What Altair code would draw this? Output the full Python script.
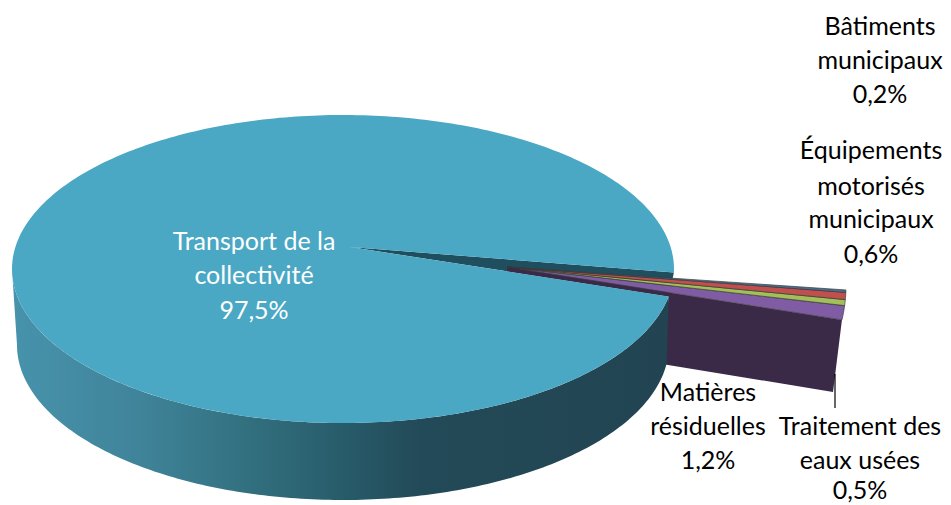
import math
import altair as alt

# ---- data ----
names = ["Transport de la collectivité", "Matières résiduelles", "Traitement des eaux usées",
         "Équipements motorisés municipaux", "Bâtiments municipaux"]
shares = [97.5, 1.2, 0.5, 0.6, 0.2]
slice_colors = ["#4aa8c4", "#7f5ca3", "#a3bf5a", "#c0504d", "#4a6f92"]
label_lines = [
    ["Transport de la", "collectivité", "97,5%"],
    ["Matières", "résiduelles", "1,2%"],
    ["Traitement des", "eaux usées", "0,5%"],
    ["Équipements", "motorisés", "municipaux", "0,6%"],
    ["Bâtiments", "municipaux", "0,2%"],
]
label_x = [254, 708, 860, 871, 880]
label_y = [[242, 276, 311], [393, 427, 461], [427, 461, 491],
           [151, 187, 220, 255], [27, 61, 95]]
label_colors = ["white", "black", "black", "black", "black"]

# ---- geometry of the 3D view, in page pixels ----
W, H, M = 935, 495, 8
START = 1.3
TOP = (343, 269, 331, 154)
BOTTOM = (343, 345, 326, 155)
APEX = (350, 247)
EXP_APEX = (507, 267)
EXP_RIM = (593, 285.6, 253, 192)
WALL_CORNERS = [(833, 392), (662, 364)]


def rim(e, deg):
    cx, cy, rx, ry = e
    a = math.radians(deg)
    return (cx + rx * math.cos(a), cy + ry * math.sin(a))


def arc(e, a, b, n=180):
    return [rim(e, a + (b - a) * i / n) for i in range(n + 1)]


def feature(points):
    pts = [[float(x), float(y)] for x, y in points]
    pts.append(pts[0])
    return {"type": "Feature", "properties": {},
            "geometry": {"type": "Polygon", "coordinates": [pts]}}


cut = sum(shares[1:]) * 3.6
notch_hi, notch_lo = START, START + cut


def shape(points, **style):
    return alt.Chart(alt.Data(values=[feature(points)])).mark_geoshape(**style).encode().project(
        type="identity", scale=1, translate=[-M, -M])


wall_grad = alt.Gradient(gradient="linear", x1=0, y1=0, x2=1, y2=0, stops=[
    alt.GradientStop(offset=0.0, color="#4793ac"),
    alt.GradientStop(offset=0.2, color="#3f8399"),
    alt.GradientStop(offset=0.36, color="#32707f"),
    alt.GradientStop(offset=0.5, color="#285c6b"),
    alt.GradientStop(offset=0.62, color="#234a58"),
    alt.GradientStop(offset=1.0, color="#224452"),
])

layers = []

# dark cut face of the exploded slices
exp_lo = rim(EXP_RIM, notch_lo)
notch_lo_pt = rim(TOP, notch_lo)
t = (EXP_APEX[0] - APEX[0]) / (notch_lo_pt[0] - APEX[0])
on_edge = (EXP_APEX[0], APEX[1] + t * (notch_lo_pt[1] - APEX[1]))
# inner wall seen through the gap
layers.append(shape([APEX, rim(TOP, notch_hi), notch_lo_pt], fill="#1f4e5f"))
layers.append(shape([EXP_APEX, exp_lo] + WALL_CORNERS + [notch_lo_pt, on_edge], fill="#3a2a47"))

# side wall of the big slice
wall_top = arc(TOP, notch_lo, 180)
wall_bottom = arc(BOTTOM, 180, 7)
layers.append(shape(wall_top + wall_bottom, fill=wall_grad))

# top face of the big slice
layers.append(shape([APEX] + arc(TOP, notch_lo, 360 + notch_hi, 360), fill=slice_colors[0]))

# exploded slices: from the lowest upward
a = notch_lo
for share, col in zip(shares[1:], slice_colors[1:]):
    b = a - share * 3.6
    layers.append(shape([EXP_APEX] + arc(EXP_RIM, a, b, 8), fill=col,
                        stroke="#3a3a3a", strokeWidth=0.7))
    a = b

xs = alt.Scale(domain=[M, M + W], range=[0, W])
ys = alt.Scale(domain=[M, M + H], range=[0, H])

# leader line
leader_x, leader_y1, leader_y2 = [835], [374], [408]
layers.append(alt.Chart(alt.Data(values=[{"x": leader_x[0], "y": leader_y1[0], "y2": leader_y2[0]}]))
              .mark_rule(color="black", strokeWidth=1.2)
              .encode(x=alt.X("x:Q", scale=xs, axis=None),
                      y=alt.Y("y:Q", scale=ys, axis=None), y2="y2:Q"))

rows = []
for lines, x, yy, c in zip(label_lines, label_x, label_y, label_colors):
    for line, y in zip(lines, yy):
        rows.append({"t": line, "x": x, "y": y, "c": c})
layers.append(alt.Chart(alt.Data(values=rows))
              .mark_text(font="Lato", fontSize=25, align="center", baseline="middle")
              .encode(x=alt.X("x:Q", scale=xs, axis=None),
                      y=alt.Y("y:Q", scale=ys, axis=None),
                      text="t:N",
                      color=alt.Color("c:N", scale=None, legend=None)))

chart = alt.layer(*layers).properties(
    width=W, height=H, padding=0, autosize=alt.AutoSizeParams(type="none"),
    background="white",
).configure_view(stroke=None)

chart.save("out.html", embed_options={"renderer": "svg", "actions": False})
